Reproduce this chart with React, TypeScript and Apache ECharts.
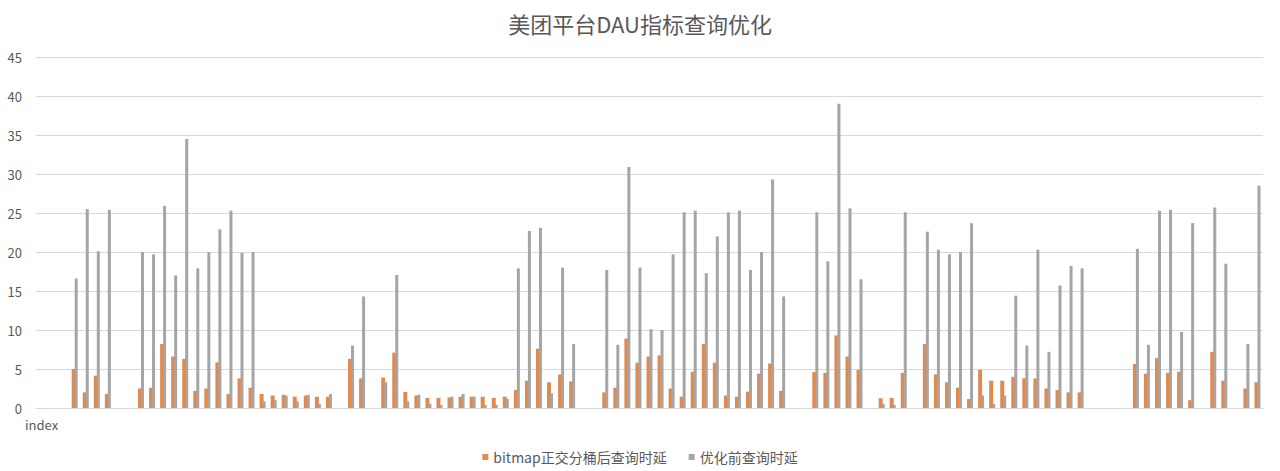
import React, { useEffect, useRef } from "react";
import * as echarts from "echarts";

const categories = [
  "1","2","3","4","5","6","7","8","9","10","11","12","13","14","15","16","17","18","19","20",
  "21","22","23","24","25","26","27","28","29","30","31","32","33","34","35","36","37","38","39","40",
  "41","42","43","44","45","46","47","48","49","50","51","52","53","54","55","56","57","58","59","60",
  "61","62","63","64","65","66","67","68","69","70","71","72","73","74","75","76","77","78","79","80",
  "81","82","83","84","85","86","87","88","89","90","91","92","93","94","95","96","97","98","99","100",
  "101","102","103","104","105","106","107","108","109","110","111",
];

const bitmapLatency = [
  null, null, null, 5.0, 2.0, 4.15, 1.8, null, null, 2.5,
  2.6, 8.2, 6.6, 6.3, 2.2, 2.5, 5.85, 1.8, 3.8, 2.6,
  1.8, 1.6, 1.7, 1.45, 1.6, 1.45, 1.45, null, 6.3, 3.8,
  null, 3.9, 7.1, 2.05, 1.6, 1.3, 1.3, 1.35, 1.45, 1.45,
  1.45, 1.3, 1.45, 2.3, 3.5, 7.6, 3.3, 4.3, 3.4, null,
  null, 2.0, 2.6, 8.9, 5.8, 6.6, 6.75, 2.5, 1.45, 4.65,
  8.2, 5.8, 1.6, 1.45, 2.1, 4.4, 5.7, 2.2, null, null,
  4.6, 4.5, 9.3, 6.6, 4.9, null, 1.25, 1.3, 4.5, null,
  8.2, 4.3, 3.3, 2.6, 1.15, 4.9, 3.5, 3.5, 4.0, 3.8,
  3.8, 2.5, 2.3, 2.0, 2.0, null, null, null, null, 5.65,
  4.4, 6.4, 4.5, 4.65, 1.0, null, 7.2, 3.5, null, 2.5,
  3.3,
];

const beforeLatency = [
  null, null, null, 16.6, 25.5, 20.1, 25.4, null, null, 20.0,
  19.7, 25.9, 17.0, 34.5, 17.9, 20.0, 22.9, 25.3, 19.9, 20.0,
  0.85, 1.0, 1.6, 0.85, 1.7, 0.55, 1.8, null, 8.0, 14.3,
  null, 3.3, 17.05, 0.85, 1.7, 0.55, 0.4, 1.45, 1.8, 1.45,
  0.4, 0.4, 1.15, 17.9, 22.7, 23.1, 1.9, 18.0, 8.2, null,
  null, 17.7, 8.1, 30.9, 18.0, 10.1, 10.0, 19.7, 25.1, 25.3,
  17.3, 22.0, 25.1, 25.3, 17.7, 20.0, 29.3, 14.3, null, null,
  25.1, 18.8, 39.0, 25.6, 16.5, null, 0.55, 0.4, 25.1, null,
  22.6, 20.3, 19.7, 20.0, 23.7, 1.6, 0.55, 1.6, 14.4, 8.0,
  20.3, 7.2, 15.7, 18.2, 17.9, null, null, null, null, 20.4,
  8.1, 25.3, 25.4, 9.75, 23.7, null, 25.7, 18.5, null, 8.2,
  28.5,
];

const seriesNames = ["bitmap正交分桶后查询时延", "优化前查询时延"];
const titleText = "美团平台DAU指标查询优化";
const xAxisName = "index";

const FONT = "'Noto Sans CJK SC', 'Noto Sans', sans-serif";
const TEXT = "#595959";

export default function App() {
  const ref = useRef<HTMLDivElement>(null);
  useEffect(() => {
    if (!ref.current) return;
    const chart = echarts.init(ref.current, null, { renderer: "svg" });
    chart.setOption({
      animation: false,
      backgroundColor: "#ffffff",
      title: {
        text: titleText,
        left: "center",
        top: 7,
        textStyle: { fontFamily: FONT, fontSize: 22, fontWeight: "normal", color: TEXT },
      },
      legend: {
        bottom: 2,
        left: "center",
        icon: "rect",
        itemWidth: 6,
        itemHeight: 6,
        itemGap: 22,
        textStyle: { fontFamily: FONT, fontSize: 14, color: TEXT },
        data: seriesNames,
      },
      grid: { left: 36, right: 17, top: 57, bottom: 63, containLabel: false },
      xAxis: {
        type: "category",
        data: categories,
        boundaryGap: true,
        axisLine: { show: true, lineStyle: { color: "#D9D9D9", width: 1 } },
        axisTick: { show: false },
        axisLabel: { show: false },
        splitLine: { show: false },
      },
      yAxis: {
        type: "value",
        min: 0,
        max: 45,
        interval: 5,
        axisLine: { show: false },
        axisTick: { show: false },
        axisLabel: { fontFamily: FONT, fontSize: 13, color: TEXT, margin: 14 },
        splitLine: { show: true, lineStyle: { color: "#D9D9D9", width: 1 } },
      },
      graphic: [
        {
          type: "text",
          left: 25,
          top: 418,
          style: { text: xAxisName, fontFamily: FONT, fontSize: 13, fill: TEXT },
        },
      ],
      series: [
        {
          name: seriesNames[0],
          type: "bar",
          data: bitmapLatency,
          barWidth: 4,
          barGap: "-25%",
          itemStyle: { color: "#E08A50" },
        },
        {
          name: seriesNames[1],
          type: "bar",
          data: beforeLatency,
          barWidth: 3,
          barGap: "-25%",
          itemStyle: { color: "#A5A5A5" },
        },
      ],
    });
    return () => chart.dispose();
  }, []);
  return <div ref={ref} style={{ width: 1280, height: 471, position: "absolute", left: 0, top: 0 }} />;
}
